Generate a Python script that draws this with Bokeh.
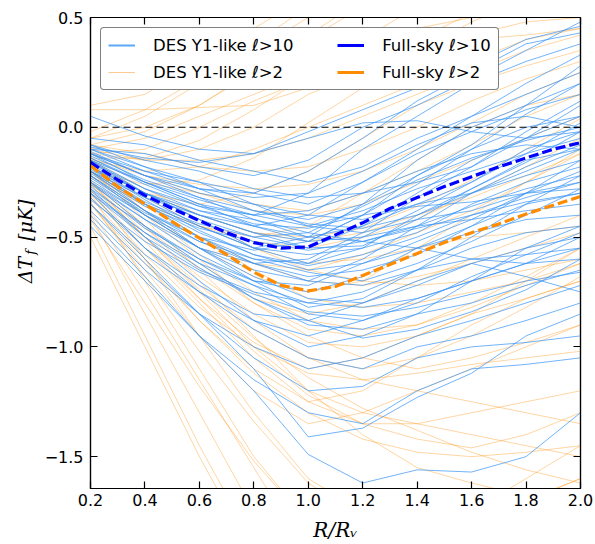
import math
from bokeh.plotting import figure
from bokeh.layouts import row
from bokeh.models import (Legend, LegendItem, LinearAxis, FixedTicker, Span, Range1d)
from bokeh.core.properties import value
from bokeh.embed import file_html
from bokeh.resources import INLINE

# ---------------- data ----------------
r_grid = [0.2, 0.4, 0.6, 0.8, 1.0, 1.2, 1.4, 1.6, 1.8, 2.0]

des_l10 = [
    [0.05, -0.04, -0.10, -0.12, -0.05, 0.02, 0.03, -0.02, -0.05, -0.02],
    [-0.10, -0.12, -0.18, -0.22, -0.15, 0.00, 0.10, 0.22, 0.35, 0.48],
    [-0.12, -0.20, -0.25, -0.30, -0.20, -0.05, 0.12, 0.25, 0.38, 0.43],
    [-0.15, -0.25, -0.35, -0.40, -0.30, -0.10, 0.05, 0.20, 0.30, 0.38],
    [-0.05, -0.08, -0.15, -0.20, -0.25, -0.18, -0.05, 0.05, 0.20, 0.33],
    [-0.18, -0.30, -0.40, -0.45, -0.40, -0.25, -0.10, 0.05, 0.15, 0.25],
    [-0.20, -0.35, -0.45, -0.55, -0.50, -0.35, -0.15, 0.00, 0.10, 0.20],
    [-0.08, -0.15, -0.20, -0.28, -0.32, -0.30, -0.25, -0.18, -0.05, 0.10],
    [-0.14, -0.25, -0.33, -0.40, -0.45, -0.38, -0.28, -0.20, -0.12, 0.02],
    [-0.16, -0.30, -0.42, -0.50, -0.55, -0.45, -0.30, -0.15, -0.05, 0.05],
    [-0.22, -0.38, -0.50, -0.60, -0.62, -0.50, -0.38, -0.25, -0.10, -0.02],
    [-0.12, -0.22, -0.30, -0.35, -0.40, -0.42, -0.35, -0.30, -0.22, -0.15],
    [-0.25, -0.40, -0.55, -0.65, -0.70, -0.60, -0.45, -0.30, -0.20, -0.10],
    [-0.18, -0.32, -0.45, -0.55, -0.58, -0.55, -0.48, -0.35, -0.25, -0.18],
    [-0.10, -0.18, -0.25, -0.35, -0.45, -0.48, -0.42, -0.38, -0.30, -0.25],
    [-0.28, -0.45, -0.60, -0.70, -0.75, -0.68, -0.55, -0.45, -0.35, -0.30],
    [-0.15, -0.28, -0.38, -0.45, -0.52, -0.50, -0.45, -0.42, -0.38, -0.35],
    [-0.20, -0.35, -0.48, -0.58, -0.65, -0.62, -0.55, -0.48, -0.42, -0.40],
    [-0.30, -0.50, -0.65, -0.75, -0.80, -0.75, -0.65, -0.55, -0.48, -0.45],
    [-0.12, -0.25, -0.35, -0.45, -0.50, -0.45, -0.35, -0.25, -0.12, -0.05],
    [-0.22, -0.40, -0.55, -0.68, -0.78, -0.80, -0.72, -0.62, -0.55, -0.50],
    [-0.35, -0.58, -0.75, -0.88, -0.95, -0.88, -0.78, -0.70, -0.62, -0.55],
    [-0.18, -0.35, -0.50, -0.62, -0.70, -0.72, -0.65, -0.60, -0.58, -0.55],
    [-0.25, -0.45, -0.62, -0.78, -0.90, -0.92, -0.85, -0.80, -0.72, -0.65],
    [-0.40, -0.65, -0.85, -1.00, -1.10, -1.05, -0.95, -0.88, -0.80, -0.72],
    [-0.30, -0.55, -0.75, -0.92, -1.05, -1.10, -1.00, -0.95, -0.88, -0.80],
    [-0.38, -0.62, -0.85, -1.05, -1.20, -1.18, -1.05, -1.00, -0.98, -0.95],
    [-0.45, -0.70, -0.95, -1.15, -1.30, -1.35, -1.20, -1.10, -1.08, -1.05],
    [-0.35, -0.60, -0.85, -1.10, -1.41, -1.37, -1.23, -1.12, -0.95, -0.85],
    [-0.42, -0.68, -0.95, -1.20, -1.49, -1.62, -1.56, -1.57, -1.50, -1.30],
    [-0.28, -0.50, -0.70, -0.88, -1.00, -0.95, -0.85, -0.70, -0.55, -0.45],
    [-0.20, -0.38, -0.55, -0.70, -0.82, -0.78, -0.65, -0.50, -0.35, -0.22],
    [-0.15, -0.30, -0.42, -0.55, -0.62, -0.55, -0.40, -0.28, -0.15, -0.10],
    [-0.10, -0.20, -0.28, -0.30, -0.35, -0.25, -0.12, -0.02, 0.08, 0.15],
    [-0.25, -0.42, -0.55, -0.62, -0.60, -0.48, -0.32, -0.18, -0.02, 0.12],
    [-0.18, -0.30, -0.38, -0.42, -0.48, -0.52, -0.55, -0.60, -0.62, -0.60],
    [-0.32, -0.55, -0.72, -0.85, -0.88, -0.80, -0.70, -0.62, -0.68, -0.75],
    [-0.12, -0.22, -0.28, -0.32, -0.30, -0.20, -0.08, 0.02, 0.05, 0.00],
    [-0.20, -0.32, -0.40, -0.48, -0.52, -0.40, -0.22, -0.10, 0.00, 0.05],
    [-0.26, -0.42, -0.58, -0.70, -0.72, -0.62, -0.52, -0.42, -0.30, -0.20],
    [-0.16, -0.28, -0.36, -0.40, -0.38, -0.30, -0.20, -0.12, -0.08, -0.10],
    [-0.22, -0.38, -0.52, -0.62, -0.68, -0.65, -0.58, -0.45, -0.30, -0.15],
    [-0.08, -0.18, -0.28, -0.38, -0.42, -0.35, -0.22, -0.08, 0.10, 0.28],
    [-0.30, -0.48, -0.62, -0.72, -0.80, -0.82, -0.78, -0.70, -0.62, -0.50],
    [-0.14, -0.26, -0.36, -0.44, -0.46, -0.40, -0.36, -0.34, -0.30, -0.28],
    [-0.18, -0.33, -0.47, -0.58, -0.63, -0.58, -0.50, -0.40, -0.32, -0.25],
    [-0.24, -0.40, -0.52, -0.60, -0.66, -0.70, -0.62, -0.52, -0.40, -0.28],
    [-0.13, -0.24, -0.32, -0.38, -0.44, -0.46, -0.40, -0.30, -0.18, -0.08],
    [-0.27, -0.46, -0.60, -0.72, -0.85, -0.88, -0.80, -0.68, -0.58, -0.48],
    [-0.21, -0.36, -0.46, -0.52, -0.56, -0.52, -0.45, -0.36, -0.28, -0.22],
    [-0.11, -0.22, -0.32, -0.42, -0.50, -0.52, -0.46, -0.40, -0.34, -0.30],
    [-0.33, -0.52, -0.66, -0.76, -0.84, -0.86, -0.82, -0.76, -0.70, -0.66],
    [-0.17, -0.30, -0.40, -0.48, -0.55, -0.54, -0.42, -0.28, -0.16, -0.02],
    [-0.19, -0.34, -0.44, -0.50, -0.48, -0.36, -0.24, -0.14, -0.06, 0.00],
    [-0.29, -0.48, -0.64, -0.78, -0.88, -0.96, -0.92, -0.84, -0.74, -0.60],
    [-0.09, -0.14, -0.16, -0.12, -0.02, 0.08, 0.18, 0.28, 0.40, 0.46],
    [-0.23, -0.39, -0.50, -0.56, -0.52, -0.40, -0.26, -0.10, 0.06, 0.20],
]

des_l2 = [
    [0.10, 0.15, 0.30, 0.45, 0.60, 0.70, 0.80, 0.90, 1.00, 1.10],
    [-0.05, 0.05, 0.20, 0.35, 0.50, 0.60, 0.70, 0.80, 0.90, 1.00],
    [-0.10, -0.05, 0.05, 0.15, 0.25, 0.35, 0.45, 0.50, 0.55, 0.60],
    [-0.12, -0.15, -0.10, 0.00, 0.15, 0.25, 0.35, 0.42, 0.48, 0.50],
    [0.08, 0.08, 0.09, 0.10, 0.18, 0.28, 0.40, 0.52, 0.60, 0.65],
    [-0.15, -0.20, -0.18, -0.10, 0.00, 0.10, 0.20, 0.30, 0.40, 0.45],
    [-0.18, -0.30, -0.35, -0.30, -0.20, -0.05, 0.10, 0.20, 0.28, 0.35],
    [-0.20, -0.35, -0.45, -0.50, -0.45, -0.30, -0.15, 0.00, 0.10, 0.15],
    [-0.15, -0.25, -0.30, -0.38, -0.40, -0.35, -0.25, -0.15, -0.05, 0.05],
    [-0.22, -0.40, -0.55, -0.62, -0.65, -0.58, -0.48, -0.38, -0.25, -0.12],
    [-0.25, -0.45, -0.62, -0.78, -0.85, -0.80, -0.70, -0.60, -0.50, -0.40],
    [-0.18, -0.35, -0.50, -0.65, -0.78, -0.82, -0.80, -0.75, -0.70, -0.62],
    [-0.30, -0.55, -0.78, -0.98, -1.10, -1.05, -0.95, -0.85, -0.78, -0.70],
    [-0.35, -0.65, -0.95, -1.20, -1.35, -1.30, -1.20, -1.10, -1.00, -0.90],
    [-0.28, -0.60, -0.95, -1.30, -1.60, -1.75, -1.80, -1.75, -1.70, -1.60],
    [-0.40, -0.85, -1.30, -1.75, -2.10, -2.20, -2.20, -2.10, -2.00, -1.90],
    [-0.45, -0.95, -1.45, -1.90, -2.30, -2.40, -2.40, -2.30, -2.20, -2.10],
    [-0.30, -0.70, -1.10, -1.50, -1.80, -1.90, -1.85, -1.80, -1.70, -1.60],
    [-0.25, -0.50, -0.75, -1.00, -1.20, -1.30, -1.35, -1.40, -1.45, -1.50],
    [-0.20, -0.42, -0.65, -0.88, -1.05, -1.15, -1.20, -1.25, -1.30, -1.35],
    [-0.32, -0.60, -0.88, -1.10, -1.25, -1.20, -1.05, -0.90, -0.78, -0.70],
    [-0.15, -0.30, -0.42, -0.55, -0.65, -0.70, -0.72, -0.70, -0.65, -0.60],
    [-0.12, -0.22, -0.30, -0.35, -0.38, -0.30, -0.20, -0.08, 0.05, 0.15],
    [-0.20, -0.38, -0.55, -0.68, -0.75, -0.70, -0.55, -0.40, -0.25, -0.10],
    [-0.25, -0.48, -0.68, -0.85, -0.98, -1.00, -0.95, -0.85, -0.70, -0.55],
    [-0.18, -0.32, -0.45, -0.55, -0.62, -0.60, -0.55, -0.50, -0.48, -0.45],
    [-0.50, -1.00, -1.50, -1.95, -2.30, -2.50, -2.60, -2.60, -2.50, -2.40],
    [-0.38, -0.75, -1.15, -1.55, -1.95, -2.10, -2.20, -2.10, -2.00, -1.90],
    [-0.22, -0.45, -0.70, -0.95, -1.20, -1.40, -1.55, -1.62, -1.68, -1.70],
    [-0.28, -0.55, -0.80, -1.05, -1.25, -1.35, -1.35, -1.30, -1.25, -1.20],
    [-0.10, -0.15, -0.15, -0.12, -0.05, 0.05, 0.15, 0.25, 0.35, 0.42],
    [-0.05, 0.00, 0.10, 0.25, 0.40, 0.55, 0.65, 0.75, 0.80, 0.85],
    [-0.12, -0.10, 0.00, 0.12, 0.22, 0.30, 0.36, 0.40, 0.42, 0.45],
    [-0.15, -0.28, -0.40, -0.48, -0.52, -0.48, -0.40, -0.32, -0.22, -0.12],
    [-0.20, -0.40, -0.60, -0.80, -0.95, -1.05, -1.10, -1.05, -0.98, -0.90],
    [-0.35, -0.62, -0.88, -1.12, -1.30, -1.42, -1.48, -1.50, -1.48, -1.45],
    [-0.18, -0.38, -0.58, -0.75, -0.88, -0.92, -0.90, -0.82, -0.72, -0.62],
    [-0.22, -0.35, -0.45, -0.52, -0.55, -0.50, -0.42, -0.30, -0.18, -0.05],
    [-0.42, -0.80, -1.18, -1.52, -1.80, -1.90, -1.85, -1.75, -1.60, -1.45],
    [-0.08, -0.12, -0.18, -0.20, -0.18, -0.10, 0.00, 0.12, 0.22, 0.30],
    [-0.25, -0.50, -0.72, -0.92, -1.05, -1.10, -1.05, -0.95, -0.82, -0.68],
    [-0.30, -0.58, -0.82, -1.00, -1.12, -1.15, -1.12, -1.08, -1.05, -1.02],
    [-0.16, -0.30, -0.40, -0.48, -0.50, -0.46, -0.36, -0.24, -0.10, 0.04],
    [-0.24, -0.46, -0.64, -0.80, -0.92, -0.95, -0.90, -0.80, -0.68, -0.55],
    [-0.26, -0.52, -0.78, -1.02, -1.22, -1.35, -1.42, -1.46, -1.40, -1.30],
    [-0.14, -0.22, -0.26, -0.28, -0.26, -0.20, -0.10, 0.02, 0.15, 0.25],
    [-0.34, -0.68, -1.02, -1.34, -1.62, -1.78, -1.85, -1.82, -1.75, -1.65],
    [-0.20, -0.36, -0.50, -0.62, -0.70, -0.72, -0.68, -0.62, -0.55, -0.48],
    [-0.02, 0.08, 0.22, 0.38, 0.55, 0.70, 0.82, 0.92, 1.00, 1.05],
    [-0.08, -0.02, 0.10, 0.26, 0.42, 0.58, 0.72, 0.84, 0.92, 0.98],
    [-0.14, -0.14, -0.06, 0.08, 0.24, 0.40, 0.55, 0.66, 0.75, 0.82],
    [-0.20, -0.26, -0.24, -0.14, 0.02, 0.18, 0.34, 0.48, 0.58, 0.66],
    [-0.26, -0.50, -0.74, -0.96, -1.14, -1.28, -1.38, -1.48, -1.56, -1.62],
]

r_fine = [0.2, 0.3, 0.4, 0.5, 0.6, 0.7, 0.8, 0.9, 1.0, 1.1,
          1.2, 1.3, 1.4, 1.5, 1.6, 1.7, 1.8, 1.9, 2.0]
fullsky_l10 = [-0.16, -0.24, -0.31, -0.37, -0.425, -0.48, -0.525, -0.55, -0.545, -0.49,
               -0.435, -0.37, -0.32, -0.27, -0.225, -0.18, -0.14, -0.10, -0.07]
fullsky_l2 = [-0.175, -0.27, -0.35, -0.43, -0.505, -0.58, -0.66, -0.72, -0.745, -0.725,
              -0.675, -0.625, -0.575, -0.525, -0.48, -0.44, -0.395, -0.355, -0.315]

x_ticks = [0.2, 0.4, 0.6, 0.8, 1.0, 1.2, 1.4, 1.6, 1.8, 2.0]
x_tick_labels = ["0.2", "0.4", "0.6", "0.8", "1.0", "1.2", "1.4", "1.6", "1.8", "2.0"]
y_ticks = [-1.5, -1.0, -0.5, 0.0, 0.5]
y_tick_labels = ["\u22121.5", "\u22121.0", "\u22120.5", "0.0", "0.5"]

legend_labels = ["DES Y1-like \u2113>10", "DES Y1-like \u2113>2",
                 "Full-sky \u2113>10", "Full-sky \u2113>2"]

y_title_parts = ["\u0394T", "f", "[\u03bcK]"]
x_title = "R/R\u1d65"

NAN = float("nan")

LEFT_PANEL = 40   # width of the y-title panel (page px)

# ---------------- main figure ----------------
p = figure(width=595 - LEFT_PANEL, height=544, output_backend="svg", toolbar_location=None,
           x_range=Range1d(0.2, 2.0), y_range=Range1d(-1.645, 0.5),
           min_border_left=90 - LEFT_PANEL, min_border_right=15, min_border_top=17,
           min_border_bottom=544 - 489,
           background_fill_color="white", border_fill_color="white")
p.xgrid.visible = False
p.ygrid.visible = False
p.outline_line_color = "black"
p.outline_line_width = 1.2

BLUE_THIN = "#3b95f5"
ORANGE = "#ff8c00"

p.multi_line(xs=[r_grid] * len(des_l2), ys=des_l2, line_color=ORANGE, line_alpha=0.36, line_width=1)
p.multi_line(xs=[r_grid] * len(des_l10), ys=des_l10, line_color=BLUE_THIN, line_alpha=0.72, line_width=1)

p.line(r_fine, fullsky_l10, line_color="#0000ff", line_width=3.2, line_dash="10 4")
p.line(r_fine, fullsky_l2, line_color=ORANGE, line_width=3.2, line_dash="10 4")

p.add_layout(Span(location=0.0, dimension="width", line_color="black", line_width=1.1,
                  line_dash="7 4"))

# legend proxies (no visible data)
lg1 = p.line([NAN], [NAN], line_color="#5aa8f5", line_width=2)
lg2 = p.line([NAN], [NAN], line_color="#ffc996", line_width=1)
lg3 = p.line([NAN], [NAN], line_color="#0000ff", line_width=3)
lg4 = p.line([NAN], [NAN], line_color=ORANGE, line_width=3)

pad = "       "
legend = Legend(items=[
    LegendItem(label=legend_labels[0] + pad, renderers=[lg1]),
    LegendItem(label=legend_labels[1] + pad, renderers=[lg2]),
    LegendItem(label=legend_labels[2], renderers=[lg3]),
    LegendItem(label=legend_labels[3], renderers=[lg4]),
], location="top_left", ncols=2)
legend.label_text_font = "DejaVu Sans"
legend.label_text_font_size = "16.5px"
legend.label_text_color = "black"
legend.glyph_width = 27
legend.glyph_height = 20
legend.label_height = 20
legend.label_standoff = 18
legend.spacing = 7
legend.padding = 7
legend.margin = 10
legend.border_line_color = "black"
legend.border_line_width = 1
legend.background_fill_color = "white"
legend.background_fill_alpha = 1.0
if "border_radius" in Legend.properties():
    legend.border_radius = 4
p.add_layout(legend, "center")

def style_axis(ax, ticks, labels, show_labels):
    ax.ticker = FixedTicker(ticks=ticks)
    ax.major_label_overrides = {t: l for t, l in zip(ticks, labels)}
    ax.major_tick_in = 7
    ax.major_tick_out = 0
    ax.minor_tick_in = 0
    ax.minor_tick_out = 0
    ax.major_tick_line_color = "black"
    ax.major_tick_line_width = 1.2
    ax.axis_line_color = "black"
    ax.axis_line_width = 1.2
    ax.major_label_text_font = "DejaVu Sans"
    if show_labels:
        ax.major_label_text_font_size = "16px"
        ax.major_label_text_color = "black"
    else:
        ax.major_label_text_font_size = "0px"
        ax.major_label_text_color = None

style_axis(p.xaxis[0], x_ticks, x_tick_labels, True)
style_axis(p.yaxis[0], y_ticks, y_tick_labels, True)
p.xaxis[0].major_label_standoff = 5
p.yaxis[0].major_label_standoff = 7

# x title as the bottom axis label
p.xaxis[0].axis_label = x_title
p.xaxis[0].axis_label_text_font = "DejaVu Serif"
p.xaxis[0].axis_label_text_font_style = "italic"
p.xaxis[0].axis_label_text_font_size = "20px"
p.xaxis[0].axis_label_text_color = "black"
p.xaxis[0].axis_label_standoff = 9

top = LinearAxis()
style_axis(top, x_ticks, x_tick_labels, False)
p.add_layout(top, "above")
right = LinearAxis()
style_axis(right, y_ticks, y_tick_labels, False)
p.add_layout(right, "right")

# ---------------- y-title panel (coordinates in page pixels) ----------------
SERIF = value("DejaVu Serif")

yl = figure(width=LEFT_PANEL, height=544, output_backend="svg", toolbar_location=None,
            x_range=Range1d(0, LEFT_PANEL), y_range=Range1d(0, 544),
            x_axis_location=None, y_axis_location=None,
            min_border=0, min_border_left=0, min_border_right=0,
            min_border_top=0, min_border_bottom=0)
try:
    yl.title = None
except Exception:
    yl.title.visible = False
yl.xgrid.visible = False
yl.ygrid.visible = False
yl.outline_line_color = None
yl.background_fill_color = "white"
yl.border_fill_color = "white"

# data y = 544 - page y
yl.text(x=[24], y=[544 - 307], text=[y_title_parts[0]], angle=math.pi / 2,
        text_font=SERIF, text_font_style="italic", text_font_size="19px",
        text_baseline="middle", text_align="left", text_color="black")
yl.text(x=[29.5], y=[544 - 274], text=[y_title_parts[1]], angle=math.pi / 2,
        text_font=SERIF, text_font_style="italic", text_font_size="13px",
        text_baseline="middle", text_align="left", text_color="black")
yl.text(x=[24], y=[544 - 258], text=[y_title_parts[2]], angle=math.pi / 2,
        text_font=SERIF, text_font_style="italic", text_font_size="19px",
        text_baseline="middle", text_align="left", text_color="black")

layout = row(yl, p, spacing=0)

open("out.html", "w").write(file_html(layout, INLINE))
